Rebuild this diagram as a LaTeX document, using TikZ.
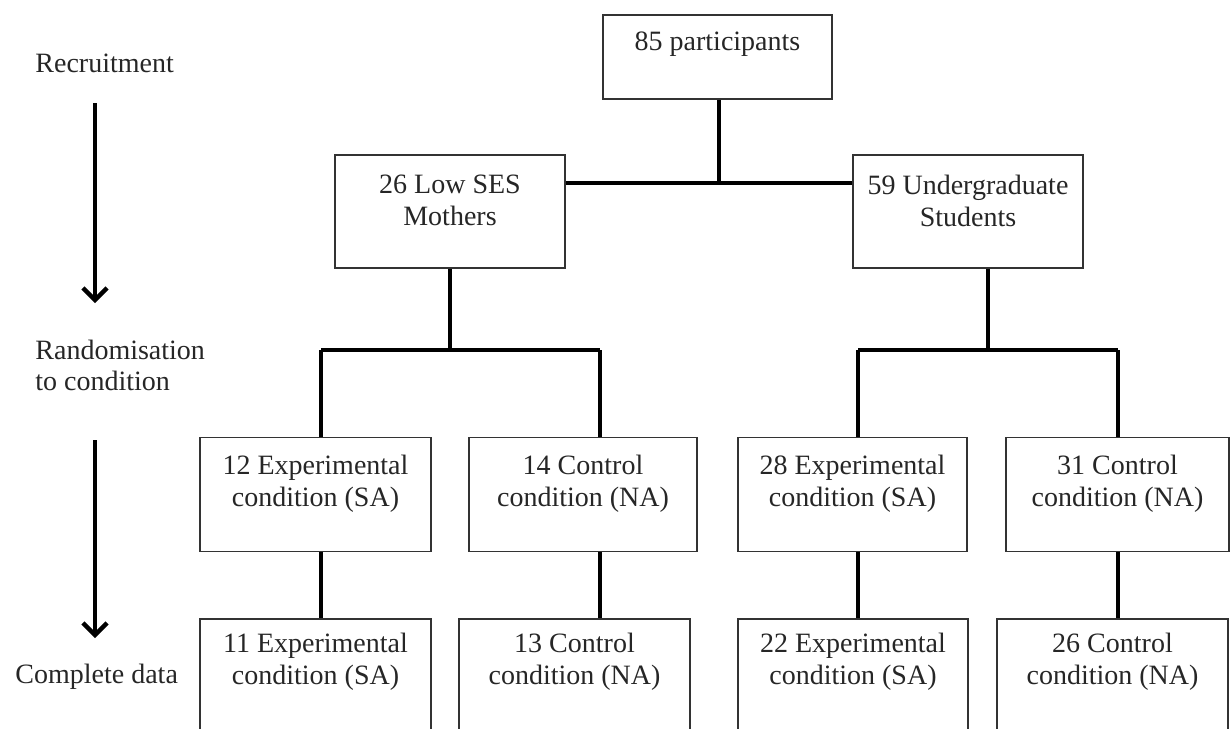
\documentclass[tikz,border=0pt]{standalone}
\usepackage{fontspec}
\setmainfont{Liberation Serif}
\usetikzlibrary{arrows.meta}
\begin{document}
\begin{tikzpicture}[x=0.5pt,y=-0.5pt,
  box/.style={draw=black!80, line width=0.8pt, rectangle, inner sep=0pt},
  boxtxt/.style={anchor=north, yshift=-9pt, align=center, text=black!85, font=\fontsize{14}{16}\selectfont, inner sep=0pt},
  side/.style={anchor=west, align=left, text=black!85, font=\fontsize{14}{15.5}\selectfont, inner sep=0pt},
  link/.style={line width=2pt, black},
  flow/.style={line width=2.2pt, -{Straight Barb[length=6pt,width=12pt,line width=2.2pt]}}]
\useasboundingbox (0,0) rectangle (1230,728);
% side labels
\node[side] (rec) at (35,63) {Recruitment};
\node[side, align=left] (rand) at (35,365) {Randomisation\\to condition};
\node[side] (comp) at (15,677) {Complete data};
\coordinate (a1s) at (95,103);
\coordinate (a1e) at (95,303);
\coordinate (a2s) at (95,440);
\coordinate (a2e) at (95,638);
\draw[flow] (a1s) -- (a1e);
\draw[flow] (a2s) -- (a2e);
% boxes
\node[box, minimum width=229pt*0.5, minimum height=84pt*0.5, label={[boxtxt,yshift=0.5pt]north:85 participants}] (top) at (717.5,57) {};
\node[box, minimum width=230pt*0.5, minimum height=113pt*0.5, label={[boxtxt,yshift=-1pt]north:26 Low SES\\Mothers}] (lsm) at (450,211.5) {};
\node[box, minimum width=230pt*0.5, minimum height=113pt*0.5, label={[boxtxt,yshift=-1pt]north:59 Undergraduate\\Students}] (ug) at (968,211.5) {};
% row 3
\node[box, minimum width=231pt*0.5, minimum height=114pt*0.5, label={[boxtxt]north:12 Experimental\\condition (SA)}] (e1) at (315.5,494.5) {};
\node[box, minimum width=228pt*0.5, minimum height=114pt*0.5, label={[boxtxt]north:14 Control\\condition (NA)}] (c1) at (583,494.5) {};
\node[box, minimum width=229pt*0.5, minimum height=114pt*0.5, label={[boxtxt]north:28 Experimental\\condition (SA)}] (e2) at (852.5,494.5) {};
\node[box, minimum width=223pt*0.5, minimum height=114pt*0.5, label={[boxtxt]north:31 Control\\condition (NA)}] (c2) at (1117.5,494.5) {};
% row 4
\node[box, minimum width=231pt*0.5, minimum height=121pt*0.5, label={[boxtxt,yshift=2pt]north:11 Experimental\\condition (SA)}] (e1b) at (315.5,679.5) {};
\node[box, minimum width=231pt*0.5, minimum height=121pt*0.5, label={[boxtxt,yshift=2pt]north:13 Control\\condition (NA)}] (c1b) at (574.5,679.5) {};
\node[box, minimum width=230pt*0.5, minimum height=121pt*0.5, label={[boxtxt,yshift=2pt]north:22 Experimental\\condition (SA)}] (e2b) at (853,679.5) {};
\node[box, minimum width=231pt*0.5, minimum height=121pt*0.5, label={[boxtxt,yshift=2pt]north:26 Control\\condition (NA)}] (c2b) at (1112.5,679.5) {};
% junctions
\coordinate (j0) at (719,183);
\coordinate (jl) at (450,350);
\coordinate (jr) at (988,350);
\coordinate (x1) at (321,350);
\coordinate (x2) at (600,350);
\coordinate (x3) at (858,350);
\coordinate (x4) at (1118,350);
% connectors
\draw[link] (top.south -| j0) -- (j0);
\draw[link] (lsm.east |- j0) -- (ug.west |- j0);
\draw[link] (lsm.south -| jl) -- (jl);
\draw[link] (ug.south -| jr) -- (jr);
\draw[link] (x1) -- (x2);
\draw[link] (x3) -- (x4);
\draw[link] (x1) -- (e1.north -| x1);
\draw[link] (x2) -- (c1.north -| x2);
\draw[link] (x3) -- (e2.north -| x3);
\draw[link] (x4) -- (c2.north -| x4);
\draw[link] (e1.south -| x1) -- (e1b.north -| x1);
\draw[link] (c1.south -| x2) -- (c1b.north -| x2);
\draw[link] (e2.south -| x3) -- (e2b.north -| x3);
\draw[link] (c2.south -| x4) -- (c2b.north -| x4);
\end{tikzpicture}
\end{document}
